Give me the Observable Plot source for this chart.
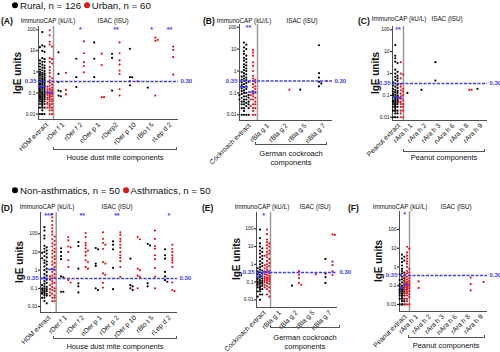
<!DOCTYPE html>
<html><head><meta charset="utf-8">
<script src="https://cdn.jsdelivr.net/npm/d3@7"></script>
<script src="https://cdn.jsdelivr.net/npm/@observablehq/plot@0.6"></script>
<style>
body{margin:0;width:500px;height:352px;position:relative;overflow:hidden;background:#fff;font-family:"Liberation Sans",Arial,sans-serif;color:#111;}
.abs{position:absolute;white-space:nowrap;line-height:1;}
.svgwrap{position:absolute;left:0;top:0;width:500px;height:352px;}
.dot{display:inline-block;width:6px;height:6px;border-radius:50%;margin:0 2px 0 0;vertical-align:1px;}
.br{position:absolute;border:1px solid #555;border-top:none;height:3px;box-sizing:border-box;}
</style></head><body>
<script>
// ---------------- DATA ----------------
const legendTop = ["Rural, n = 126", "Urban, n = 60"];
const legendBottom = ["Non-asthmatics, n = 50", "Asthmatics, n = 50"];
const catsHDM1 = ["HDM extract","rDer f 1","rDer f 2","nDer p 1","rDerp2","rDer p 10","rBlo t 5","rLep d 2"];
const catsHDM2 = ["HDM extract","rDer f 1","rDer f 2","nDer p 1","rDer p 2","rDer p 10","rBlo t 5","rLep d 2"];
const catsCockroach = ["Cockroach extract","rBla g 1","rBla g 2","rBla g 5","nBla g 7"];
const catsPeanut = ["Peanut extract","rAra h 1","rAra h 2","rAra h 3","nAra h 6","rAra h 8","rAra h 9"];
const yTicks = [100, 10, 1, 0.1, 0.01];

// (A) HDM, rural (black) / urban (red)
const A_rural = [
  [78,18,16,15,10,9,4.5,4,3.5,3,3,2.5,2.2,2,1.8,1.6,1.5,1.3,1.2,1.1,1,0.9,0.85,0.8,0.75,0.7,0.65,0.6,0.55,0.5,0.5,0.45,0.42,0.4,0.38,0.36,0.34,0.32,0.3,0.28,0.27,0.25,0.24,0.22,0.2,0.2,0.19,0.18,0.17,0.16,0.15,0.14,0.13,0.12,0.12,0.11,0.1,0.1,0.09,0.09,0.08,0.08,0.08,0.07,0.07,0.07,0.06,0.06,0.06,0.05,0.05,0.05,0.05,0.04,0.04,0.04,0.04,0.035,0.03,0.03,0.03,0.025,0.02,0.02,0.02,0.015,0.01,0.01,0.01,0.01],
  [8.5,0.8,0.33,0.13,0.12,0.075,0.07],
  [4.2,0.56,0.19],
  [25,4.2,0.56],
  [7.2,4.6,0.13],
  [12.5,0.56,0.55,0.36,0.23],
  [0.18],
  []
];
const A_urban = [
  [95,55,27,20,16,4.5,4,3,2.5,1.7,1.2,0.9,0.6,0.5,0.4,0.35,0.3,0.25,0.22,0.2,0.18,0.16,0.15,0.14,0.13,0.12,0.11,0.1,0.1,0.09,0.09,0.08,0.08,0.07,0.07,0.06,0.06,0.05,0.05,0.05,0.04,0.04,0.035,0.03,0.03,0.03,0.025,0.02,0.02,0.02,0.015,0.015,0.01,0.01],
  [0.9,0.14,0.085],
  [28,7.7,2.9,1.9,0.95],
  [7.3,2.1,0.063,0.063],
  [25,7.7,3.5,2.2,1.15,0.79,0.15,0.076],
  [0.36],
  [42,33,30,0.075],
  [16,11,5,0.74]
];
const A_stars = ["","","*","","**","","*","**"];

// (B) cockroach, rural / urban
const B_rural = [
  [20,16,12,10,8,6,5,4,3.5,3,2.5,2,1.8,1.5,1.3,1.1,1,0.9,0.8,0.7,0.6,0.55,0.5,0.45,0.4,0.38,0.35,0.32,0.3,0.28,0.25,0.23,0.2,0.18,0.16,0.15,0.13,0.12,0.1,0.1,0.09,0.08,0.08,0.07,0.07,0.06,0.06,0.05,0.05,0.05,0.04,0.04,0.04,0.035,0.03,0.03,0.03,0.025,0.02,0.02,0.02,0.015,0.01,0.01,0.01,0.01],
  [], [], [0.14], [15,0.8,0.5,0.32,0.27,0.2]
];
const B_urban = [
  [9,7,5,2.5,1.7,1,0.6,0.45,0.4,0.35,0.3,0.25,0.2,0.18,0.15,0.12,0.1,0.09,0.08,0.07,0.06,0.05,0.05,0.04,0.03,0.03,0.025,0.02,0.02,0.015,0.01,0.01],
  [], [0.14], [], [0.35]
];
const B_stars = ["**","","","",""];

// (C) peanut, rural / urban
const C_rural = [
  [20,6.5,5,3.5,3,1.5,1.2,1,0.8,0.7,0.6,0.5,0.45,0.4,0.35,0.3,0.28,0.25,0.22,0.2,0.18,0.16,0.15,0.14,0.13,0.12,0.11,0.1,0.1,0.09,0.09,0.08,0.08,0.07,0.07,0.06,0.06,0.06,0.05,0.05,0.05,0.05,0.04,0.04,0.04,0.04,0.035,0.03,0.03,0.03,0.03,0.025,0.02,0.02,0.02,0.02,0.015,0.015,0.01,0.01,0.01,0.01],
  [0.13], [0.18], [3.3,0.48], [], [], [0.2]
];
const C_urban = [
  [3.3,1,0.9,0.6,0.33,0.25,0.2,0.17,0.15,0.12,0.1,0.09,0.08,0.07,0.06,0.05,0.05,0.04,0.04,0.03,0.03,0.02,0.02,0.015,0.01,0.01],
  [], [], [], [], [0.18,0.18], []
];
const C_stars = ["**","","","","","",""];

// (D) HDM, non-asthmatics / asthmatics
const D_non = [
  [230,150,80,55,22,18,15,12,10,9,8,6,5,4.5,3.5,3,2.5,2,1.6,1.2,1,0.8,0.6,0.5,0.4,0.3,0.25,0.2,0.18,0.15,0.13,0.12,0.1,0.1,0.09,0.08,0.08,0.07,0.07,0.06,0.06,0.05,0.05,0.05,0.04,0.04,0.03,0.03,0.02,0.015],
  [16,10,6,4,0.45,0.4,0.065,0.065],
  [35,21,1.2,0.19,0.13,0.06],
  [16.5,14,2.3,1.7,0.1,0.08],
  [38,25,14,1.35,0.09],
  [4.3,0.15,0.13,0.1,0.08],
  [28,23,0.19,0.13],
  [14,6.6,4.3,0.8,0.45,0.28,0.23]
];
const D_asth = [
  [1200,800,500,300,200,130,90,70,50,40,30,25,20,15,12,10,8,6,5,4,3,2.5,2,1.5,1.2,1,0.8,0.6,0.5,0.45,0.4,0.35,0.3,0.25,0.2,0.18,0.15,0.12,0.1,0.09,0.08,0.07,0.06,0.05,0.04,0.04,0.03,0.03,0.02,0.02],
  [66,43,20,18,10,3.5,1.5,0.28,0.21],
  [110,66,32,23,16,12,10,6.5,3.5,2.8,1.5,1.2],
  [120,53,32,25,15,2.8,2.3,0.66,0.55,0.2,0.11],
  [120,88,53,38,25,17,10,6.6,4.7,3.1,1.5,0.43],
  [66,50,1.2,1,0.5,0.43,0.1],
  [150,53,21,15,6.6,4,1.3,0.43,0.1],
  [25,15,10,6.6,4.7,3.5,2.6,1.5,0.21,0.08,0.07]
];
const D_stars = ["***","","**","","**","","","*"];

// (E) cockroach, non-asthmatics / asthmatics
const E_non = [
  [90,30,15,10,8,6,5,4,3,2.5,2,1.5,1.2,1,0.8,0.7,0.6,0.5,0.45,0.4,0.35,0.3,0.28,0.25,0.22,0.2,0.18,0.16,0.15,0.13,0.12,0.11,0.1,0.1,0.09,0.08,0.08,0.07,0.06,0.06,0.05,0.05,0.04,0.04,0.03,0.03,0.02,0.02,0.015,0.01],
  [], [0.063], [], [2,0.3,0.19,0.09]
];
const E_asth = [
  [90,50,25,18,15,12,10,8,6,5,4,3.5,3,2.5,2,1.5,1.2,1,0.9,0.8,0.7,0.6,0.5,0.45,0.4,0.35,0.3,0.28,0.25,0.22,0.2,0.18,0.17,0.16,0.15,0.14,0.13,0.12,0.11,0.1,0.09,0.08,0.07,0.06,0.05,0.05,0.04,0.03,0.02,0.015],
  [], [0.41,0.26,0.17,0.09,0.07], [0.28], [48,45,1.4,0.9,0.4,0.25]
];
const E_stars = ["*","","","",""];

// (F) peanut, non-asthmatics / asthmatics
const F_non = [
  [4.5,3.5,2.8,2.2,1.8,1.2,0.8,0.6,0.5,0.45,0.4,0.35,0.3,0.25,0.22,0.2,0.18,0.15,0.13,0.12,0.1,0.1,0.09,0.08,0.08,0.07,0.07,0.06,0.06,0.06,0.05,0.05,0.05,0.04,0.04,0.04,0.035,0.03,0.03,0.03,0.025,0.02,0.02,0.02,0.015,0.015,0.01,0.01,0.01,0.01],
  [], [], [], [], [], []
];
const F_asth = [
  [12,9.5,6,4,2.8,2,1.5,1,0.8,0.6,0.5,0.45,0.4,0.35,0.3,0.28,0.25,0.22,0.2,0.18,0.16,0.15,0.14,0.13,0.12,0.11,0.1,0.1,0.09,0.09,0.08,0.08,0.07,0.07,0.06,0.06,0.05,0.05,0.04,0.04,0.035,0.03,0.03,0.025,0.02,0.02,0.015,0.01,0.01,0.01],
  [0.17,0.076], [], [], [], [0.27,0.12,0.057], [0.16]
];
const F_stars = ["*","","","","","",""];

const groupTitles = ["House dust mite components", "German cockroach\ncomponents", "Peanut components"];

// ---------------- LAYOUT / STYLE ----------------
const BLUE = "#3c3cff", RED = "#e5141c", BLK = "#000";
const FONT = "Liberation Sans, Arial, sans-serif";

function drawPanel(cfg) {
  const {cats, black, red, stars, L, R, T, B, sep, lo, hi} = cfg;
  const n = cats.length;
  const band = (R - sep) / (n - 1);
  const x0 = 0.5 - (sep - L) / band;
  const c0 = (x0 + 0.5) / 2, g0 = (0.5 - x0) / 4;
  const H = B - T;
  const lh = Math.log10(hi), ll = Math.log10(lo);
  const ypx = v => (lh - Math.log10(v)) / (lh - ll) * H;
  const step = 2.3;
  const ptsB = [], ptsR = [];
  function swarm(vals, center, halfPx, out) {
    const maxK = Math.max(0, Math.floor(halfPx / step + 0.15));
    const slots = [0];
    for (let k = 1; k <= maxK; k++) slots.push(k, -k);
    const placed = [];
    for (const v of vals.slice().sort((a, b) => b - a)) {
      const py = ypx(v);
      let best = 0, bestD = -1;
      for (const k of slots) {
        let d = Infinity;
        for (const p of placed) if (p.k === k) d = Math.min(d, Math.abs(p.py - py));
        if (d >= step) { best = k; break; }
        if (d > bestD) { bestD = d; best = k; }
      }
      placed.push({k: best, py});
      out.push({x: center + best * step / band, v});
    }
  }
  cats.forEach((c, i) => {
    if (i === 0) {
      swarm(black[0], c0 - g0, (sep - L) / 4, ptsB);
      swarm(red[0], c0 + g0, (sep - L) / 4, ptsR);
    } else {
      swarm(black[i], i - 0.22, band / 4, ptsB);
      swarm(red[i], i + 0.2, band / 4, ptsR);
    }
  });
  const meds = [
    {v: d3.median(black[0]), x1: x0 + 0.03, x2: c0},
    {v: d3.median(red[0]), x1: c0, x2: 0.47}
  ];
  const svg = Plot.plot({
    width: 500, height: 352,
    marginLeft: L, marginRight: 500 - R, marginTop: T, marginBottom: 352 - B,
    style: {background: "transparent", fontFamily: FONT, fontSize: "5px", color: "#111", overflow: "visible"},
    x: {domain: [x0, n - 0.5], axis: null},
    y: {type: "log", domain: [lo, hi], ticks: yTicks, tickFormat: d => String(d), tickSize: 2, tickPadding: 1, label: null},
    marks: [
      Plot.ruleX([0.5], {stroke: "#9a9a9a", strokeWidth: 1.5}),
      Plot.ruleX([x0], {stroke: "#222", strokeWidth: 0.8}),
      Plot.ruleY([lo], {stroke: "#222", strokeWidth: 0.8}),
      Plot.dot(ptsB, {x: "x", y: "v", r: 1.1, fill: BLK, stroke: null}),
      Plot.dot(ptsR, {x: "x", y: "v", r: 1.1, fill: RED, stroke: null}),
      Plot.ruleY([0.35], {stroke: BLUE, strokeDasharray: "3,1.5", strokeWidth: 1.5}),
      Plot.ruleY(meds, {y: "v", x1: "x1", x2: "x2", stroke: BLUE, strokeWidth: 1.6}),
      Plot.text(stars, {x: (d, i) => i === 0 ? c0 : i, y: () => hi, text: d => d, filter: d => d !== "",
        fill: BLUE, fontWeight: "bold", fontSize: 7, dy: 3.5, lineAnchor: "middle"}),
      Plot.text(cats, {x: (d, i) => i === 0 ? c0 : i, y: () => lo, text: d => d, rotate: -45,
        textAnchor: "end", lineAnchor: "middle", dy: 4, dx: 1, fontSize: 6.8, fill: "#111"}),
      Plot.text(["0.35"], {y: () => 0.35, frameAnchor: "left", dx: -2, textAnchor: "end",
        fill: BLUE, fontWeight: "bold", fontSize: 6}),
      Plot.text(["0.30"], {y: () => 0.35, frameAnchor: "right", dx: 2, textAnchor: "start",
        fill: BLUE, fontWeight: "bold", fontSize: 6})
    ]
  });
  const wrap = document.createElement("div");
  wrap.className = "svgwrap";
  wrap.appendChild(svg);
  document.body.appendChild(wrap);
}

function label(text, x, y, o = {}) {
  const d = document.createElement("div");
  d.className = "abs";
  d.textContent = text;
  d.style.left = x + "px";
  d.style.top = y + "px";
  d.style.fontSize = (o.size || 7) + "px";
  if (o.bold) d.style.fontWeight = "bold";
  if (o.color) d.style.color = o.color;
  const ax = o.anchor === "start" ? "0" : o.anchor === "end" ? "-100%" : "-50%";
  d.style.transform = `translate(${ax},-50%)` + (o.rotate ? ` rotate(${o.rotate}deg)` : "");
  if (o.multi) { d.style.whiteSpace = "pre"; d.style.textAlign = "center"; d.style.lineHeight = "1.25"; }
  document.body.appendChild(d);
}
function bracket(x1, x2, y) {
  const d = document.createElement("div");
  d.className = "br";
  d.style.left = x1 + "px"; d.style.width = (x2 - x1) + "px"; d.style.top = (y - 3) + "px";
  document.body.appendChild(d);
}
function legend(items, x, y) {
  const d = document.createElement("div");
  d.className = "abs";
  d.style.left = x + "px"; d.style.top = y + "px"; d.style.fontSize = "9.7px";
  d.style.transform = "translate(0,-50%)";
  d.innerHTML = `<span class="dot" style="background:${BLK}"></span>${items[0]} <span class="dot" style="background:${RED}"></span>${items[1]}`;
  document.body.appendChild(d);
}

const panels = [
  {cats: catsHDM1, black: A_rural, red: A_urban, stars: A_stars, L: 38, R: 178, T: 26, B: 119, sep: 53, lo: 0.0055, hi: 143},
  {cats: catsCockroach, black: B_rural, red: B_urban, stars: B_stars, L: 239, R: 332, T: 24, B: 120, sep: 257, lo: 0.0055, hi: 133},
  {cats: catsPeanut, black: C_rural, red: C_urban, stars: C_stars, L: 392, R: 487, T: 26, B: 120, sep: 403, lo: 0.0071, hi: 142},
  {cats: catsHDM2, black: D_non, red: D_asth, stars: D_stars, L: 40, R: 177, T: 212, B: 312, sep: 55.7, lo: 0.0047, hi: 1480},
  {cats: catsCockroach, black: E_non, red: E_asth, stars: E_stars, L: 256, R: 337, T: 212, B: 307, sep: 270, lo: 0.0037, hi: 828},
  {cats: catsPeanut, black: F_non, red: F_asth, stars: F_stars, L: 399, R: 487, T: 211, B: 311, sep: 409, lo: 0.0042, hi: 912}
];
panels.forEach(drawPanel);

legend(legendTop, 12, 6);
legend(legendBottom, 12, 191);

const heads = [
  ["(A)", 1, 21, 48, 113, 21], ["(B)", 203, 21, 244, 302, 21], ["(C)", 358, 21, 399, 447, 19],
  ["(D)", 1, 208, 47, 117, 207], ["(E)", 202, 208, 262, 315, 207], ["(F)", 348, 208, 400, 456, 207]
];
heads.forEach(([p, px, py, ix, sx, hy]) => {
  label(p, px, py, {anchor: "start", bold: true, size: 8.5});
  label("ImmunoCAP (kU/L)", ix, hy, {size: 6.3});
  label("ISAC (ISU)", sx, hy, {size: 6.3});
});

[[18, 73], [376, 73], [20, 262], [237, 259], [379, 261]].forEach(([x, y]) =>
  label("IgE units", x, y, {bold: true, size: 10, rotate: -90}));

bracket(53, 177, 150); label(groupTitles[0], 115, 158, {size: 7.5});
bracket(255, 327, 145); label(groupTitles[1], 291, 158, {size: 7.5, multi: true});
bracket(403, 485, 152); label(groupTitles[2], 444, 158, {size: 7.5});
bracket(53, 177, 339); label(groupTitles[0], 115, 347, {size: 7.5});
bracket(270, 340, 328); label(groupTitles[1], 305, 342, {size: 7.5, multi: true});
bracket(408, 485, 338); label(groupTitles[2], 446, 346, {size: 7.5});
</script>
</body></html>
